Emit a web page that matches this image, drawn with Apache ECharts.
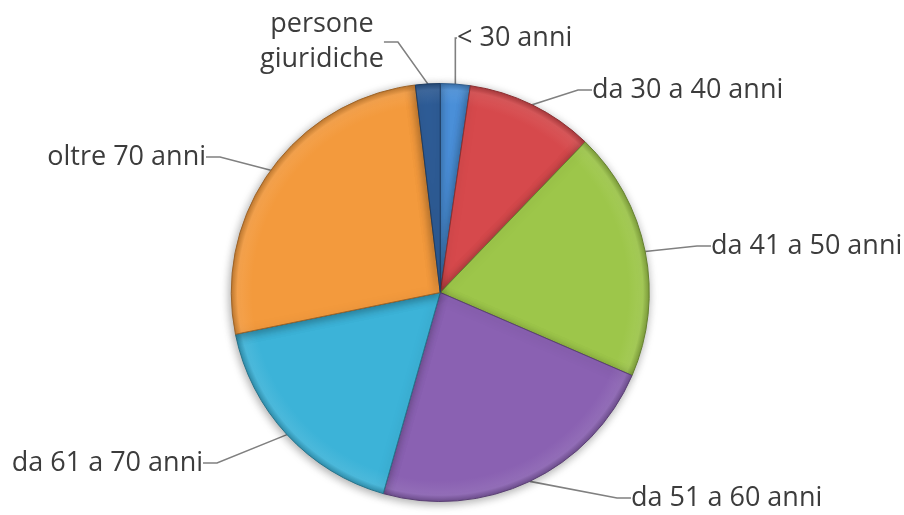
<!DOCTYPE html>
<html>
<head>
<meta charset="utf-8">
<script src="https://cdn.jsdelivr.net/npm/echarts@6/dist/echarts.min.js"></script>
<style>
  html, body { margin: 0; padding: 0; background: #fff; }
  #main { width: 904px; height: 515px; }
</style>
</head>
<body>
<div id="main"></div>
<script>
// fasce di eta' (in senso orario dall'alto)
const categories = ['< 30 anni', 'da 30 a 40 anni', 'da 41 a 50 anni', 'da 51 a 60 anni',
                    'da 61 a 70 anni', 'oltre 70 anni', 'persone\ngiuridiche'];
const values = [2.3, 9.9, 19.3, 22.9, 17.4, 26.3, 1.9];
const colors = ['#4a8fd8', '#d6494c', '#9dc64a', '#8a61b2', '#3cb3d8', '#f39a3d', '#2e5c96'];

// posizione delle etichette (come nel grafico originale)
const labelPos = [
    { x: 457, y: 38, align: 'left' },
    { x: 592, y: 90, align: 'left' },
    { x: 711, y: 246, align: 'left' },
    { x: 631, y: 498, align: 'left' },
    { x: 203, y: 463, align: 'right' },
    { x: 206, y: 157, align: 'right' },
    { x: 322, y: 42, align: 'center' }
];

const chart = echarts.init(document.getElementById('main'));

const cx = 904 * 0.487, cy = 515 * 0.568, R = 209;

function shade(hex, k) {
    const n = parseInt(hex.slice(1), 16);
    let r = n >> 16, g = (n >> 8) & 255, b = n & 255;
    const f = c => Math.max(0, Math.min(255, Math.round(k > 0 ? c + (255 - c) * k : c * (1 + k))));
    return 'rgb(' + f(r) + ',' + f(g) + ',' + f(b) + ')';
}

const pieData = categories.map((name, i) => ({
    name: name,
    value: values[i],
    itemStyle: {
        color: {
            type: 'radial', x: cx, y: cy, r: R, global: true,
            colorStops: [
                { offset: 0, color: colors[i] },
                { offset: 0.9, color: colors[i] },
                { offset: 0.97, color: shade(colors[i], 0.08) },
                { offset: 1, color: shade(colors[i], -0.2) }
            ]
        },
        borderColor: shade(colors[i], -0.35)
    }
}));

chart.setOption({
    animation: false,
    series: [{
        type: 'pie',
        center: ['48.7%', '56.8%'],
        radius: R,
        startAngle: 90,
        data: pieData,
        itemStyle: {
            borderWidth: 1,
            shadowBlur: 10,
            shadowColor: 'rgba(0,0,0,0.35)',
            shadowOffsetX: -1,
            shadowOffsetY: 2
        },
        label: {
            show: true,
            position: 'outside',
            color: '#3c3c3c',
            fontFamily: 'Open Sans',
            fontSize: 27,
            lineHeight: 35
        },
        labelLine: {
            show: true,
            length: 10,
            length2: 14,
            lineStyle: { color: '#808080', width: 1.6 }
        },
        labelLayout: function (params) {
            const p = labelPos[params.dataIndex];
            return { x: p.x, y: p.y, align: p.align, verticalAlign: 'middle' };
        }
    }]
});
</script>
</body>
</html>
